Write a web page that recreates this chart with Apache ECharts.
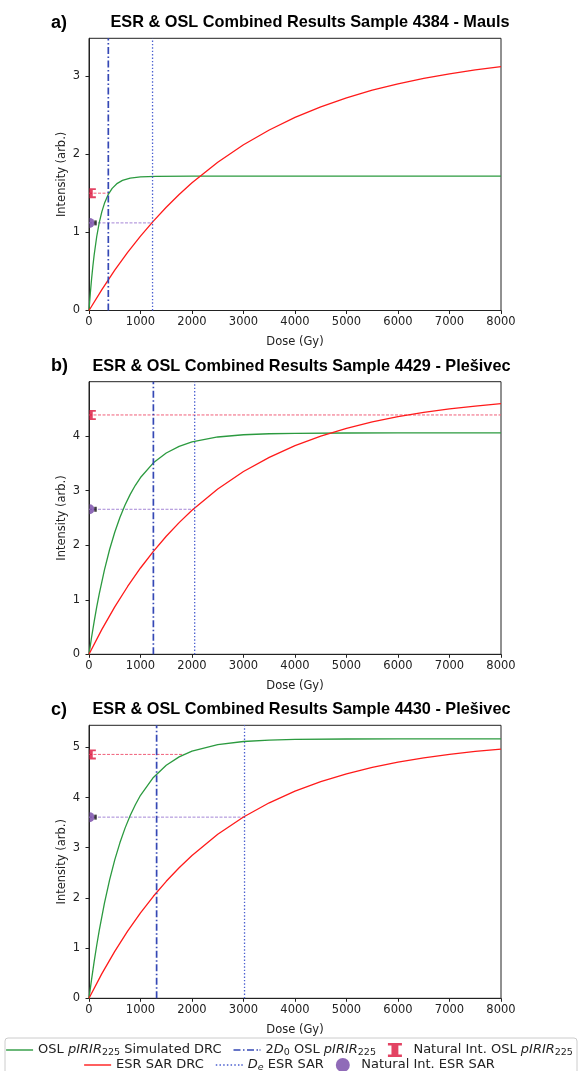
<!DOCTYPE html>
<html>
<head>
<meta charset="utf-8">
<script src="https://cdn.jsdelivr.net/npm/echarts@6/dist/echarts.min.js"></script>
<style>html,body{margin:0;padding:0;background:#fff;}#c{width:579px;height:1071px;}</style>
</head>
<body>
<div id="c"></div>
<script>
// ---- data ----
const panelLabels = ['a)', 'b)', 'c)'];
const panelTitles = [
  'ESR & OSL Combined Results Sample 4384 - Mauls',
  'ESR & OSL Combined Results Sample 4429 - Plešivec',
  'ESR & OSL Combined Results Sample 4430 - Plešivec'
];
const yMax = [3.48, 5.0, 5.44];
const yTicks = [[0, 1, 2, 3], [0, 1, 2, 3, 4], [0, 1, 2, 3, 4, 5]];
const xTicks = [0, 1000, 2000, 3000, 4000, 5000, 6000, 7000, 8000];

// ESR SAR DRC (red)
const esrDose = [0, 250, 500, 750, 1000, 1250, 1500, 1750, 2000, 2500, 3000, 3500, 4000, 4500, 5000, 5500, 6000, 6500, 7000, 7500, 8000];
const esrA = [0, 0.268, 0.515, 0.742, 0.951, 1.143, 1.320, 1.482, 1.632, 1.896, 2.119, 2.308, 2.469, 2.604, 2.719, 2.816, 2.898, 2.967, 3.026, 3.076, 3.118];
const esrB = [0, 0.457, 0.870, 1.244, 1.583, 1.889, 2.165, 2.415, 2.643, 3.033, 3.352, 3.613, 3.827, 4.002, 4.145, 4.263, 4.358, 4.437, 4.501, 4.553, 4.597];
const esrC = [0, 0.491, 0.936, 1.338, 1.703, 2.033, 2.331, 2.601, 2.846, 3.268, 3.613, 3.896, 4.128, 4.318, 4.474, 4.601, 4.706, 4.791, 4.862, 4.919, 4.967];

// OSL pIRIR225 simulated DRC (green)
const oslDoseA = [0, 25, 50, 75, 100, 150, 200, 250, 300, 375, 450, 550, 650, 800, 1000, 1300, 2000, 3000, 4000, 5000, 6000, 7000, 8000];
const oslA = [0, 0.214, 0.402, 0.566, 0.710, 0.946, 1.126, 1.264, 1.370, 1.485, 1.561, 1.626, 1.663, 1.693, 1.709, 1.715, 1.717, 1.717, 1.717, 1.717, 1.717, 1.717, 1.717];
const oslDoseBC = [0, 50, 100, 150, 200, 300, 400, 500, 600, 700, 800, 900, 1000, 1250, 1500, 1750, 2000, 2500, 3000, 3500, 4000, 5000, 6000, 7000, 8000];
const oslB = [0, 0.313, 0.601, 0.868, 1.113, 1.550, 1.922, 2.238, 2.508, 2.738, 2.933, 3.100, 3.242, 3.512, 3.693, 3.814, 3.896, 3.986, 4.027, 4.045, 4.053, 4.059, 4.06, 4.06, 4.06];
const oslC = [0, 0.378, 0.731, 1.057, 1.359, 1.898, 2.361, 2.758, 3.098, 3.391, 3.643, 3.858, 4.045, 4.401, 4.645, 4.811, 4.925, 5.056, 5.117, 5.145, 5.159, 5.167, 5.17, 5.17, 5.17];

const twoD0 = [375, 1250, 1313];        // 2D0 OSL pIRIR225 (Gy)
const deEsr = [1234, 2052, 3020];       // De ESR SAR (Gy)
const natOsl = [1.50, 4.39, 4.86];      // natural OSL intensity
const natOslEnd = [388, 8000, 1846];    // where the natural OSL guide line stops (Gy)
const natEsr = [1.12, 2.66, 3.61];      // natural ESR intensity

// ---- build chart ----
const esrSets = [esrA, esrB, esrC];
const oslSets = [[oslDoseA, oslA], [oslDoseBC, oslB], [oslDoseBC, oslC]];
const gridTops = [38.3, 381.7, 725.3];
const gridHeights = [272.2, 272.6, 273];
const titleCenters = [310, 301.5, 301.5];

const GREEN = '#2b9a3f', RED = '#ff1a1a', BLUE1 = '#3548b5', BLUE2 = '#4a5fd0';
const NAT_RED = '#dc143c', PURPLE = '#7446a6';
const FONT = 'DejaVu Sans';
const ibeam = 'path://M0,0 H15 V2.6 H11.2 V12.4 H15 V15 H0 V12.4 H3.8 V2.6 H0 Z';
const halfIbeam = 'path://M0,0 H6.5 V1.8 H3.4 V8.2 H6.5 V10 H0 Z';
const halfCircle = 'path://M0,0 A5,5 0 0 1 0,10 Z';
const iconSolid = 'path://M0,0 H27 V1.4 H0 Z';
const iconDashDot = 'path://M0,0 H7 V1.6 H0 Z M9.5,0 H11 V1.6 H9.5 Z M13.5,0 H20.5 V1.6 H13.5 Z M23,0 H24.5 V1.6 H23 Z M26,0 H27 V1.6 H26 Z';
const iconDotted = 'path://M0,0 H1.5 V1.5 H0 Z M3.7,0 H5.2 V1.5 H3.7 Z M7.4,0 H8.9 V1.5 H7.4 Z M11.1,0 H12.6 V1.5 H11.1 Z M14.8,0 H16.3 V1.5 H14.8 Z M18.5,0 H20 V1.5 H18.5 Z M22.2,0 H23.7 V1.5 H22.2 Z M25.5,0 H27 V1.5 H25.5 Z';

const grids = [], xAxes = [], yAxes = [], series = [], titles = [];
for (let i = 0; i < 3; i++) {
  grids.push({left: 89, top: gridTops[i], width: 412, height: gridHeights[i], show: true, borderColor: '#222', borderWidth: 1, containLabel: false});
  xAxes.push({
    type: 'value', gridIndex: i, min: 0, max: 8000, interval: 1000,
    name: 'Dose (Gy)', nameLocation: 'middle', nameGap: 25.5, nameMoveOverlap: false,
    nameTextStyle: {fontFamily: FONT, fontSize: 11.5, color: '#222'},
    axisLine: {show: true, onZero: false, lineStyle: {color: '#222', width: 1}},
    axisTick: {show: true, length: 3.5, lineStyle: {color: '#222'}, customValues: xTicks},
    axisLabel: {fontFamily: FONT, fontSize: 11.5, color: '#222', margin: 6, customValues: xTicks, formatter: v => String(v)},
    splitLine: {show: false}
  });
  yAxes.push({
    type: 'value', gridIndex: i, min: 0, max: yMax[i],
    name: 'Intensity (arb.)', nameLocation: 'middle', nameGap: 21, nameMoveOverlap: false,
    nameTextStyle: {fontFamily: FONT, fontSize: 11.5, color: '#222'},
    axisLine: {show: true, onZero: false, lineStyle: {color: '#222', width: 1}},
    axisTick: {show: true, length: 3.5, lineStyle: {color: '#222'}, customValues: yTicks[i]},
    axisLabel: {fontFamily: FONT, fontSize: 11.5, color: '#222', margin: 9, customValues: yTicks[i], formatter: v => String(v)},
    splitLine: {show: false}
  });
  const tCenter = gridTops[i] - 15.5;
  titles.push({text: panelLabels[i], left: 51, top: tCenter, textVerticalAlign: 'middle', padding: 0,
    textStyle: {fontFamily: 'Liberation Sans', fontWeight: 'bold', fontSize: 18, color: '#000'}});
  titles.push({text: panelTitles[i], left: titleCenters[i], textAlign: 'center', top: tCenter, textVerticalAlign: 'middle', padding: 0,
    textStyle: {fontFamily: 'Liberation Sans', fontWeight: 'bold', fontSize: 16.3, color: '#000'}});

  const ax = {xAxisIndex: i, yAxisIndex: i};
  series.push(Object.assign({
    name: 'osl', type: 'line', showSymbol: false, symbol: 'none', smooth: false,
    lineStyle: {color: GREEN, width: 1.3}, itemStyle: {color: GREEN}, z: 3,
    data: oslSets[i][0].map((d, k) => [d, oslSets[i][1][k]])
  }, ax));
  series.push(Object.assign({
    name: 'esr', type: 'line', showSymbol: false, symbol: 'none', smooth: false,
    lineStyle: {color: RED, width: 1.3}, itemStyle: {color: RED}, z: 3,
    data: esrDose.map((d, k) => [d, esrSets[i][k]])
  }, ax));
  series.push(Object.assign({
    name: 'twoD0', type: 'line', showSymbol: false, symbol: 'none',
    lineStyle: {color: BLUE1, width: 1.7, type: [7, 2.5, 1.5, 2.5]}, itemStyle: {color: BLUE1}, z: 4,
    data: [[twoD0[i], 0], [twoD0[i], yMax[i]]]
  }, ax));
  series.push(Object.assign({
    name: 'de', type: 'line', showSymbol: false, symbol: 'none',
    lineStyle: {color: BLUE2, width: 1.3, type: [1.4, 2]}, itemStyle: {color: BLUE2}, z: 4,
    data: [[deEsr[i], 0], [deEsr[i], yMax[i]]]
  }, ax));
  series.push(Object.assign({
    name: 'natOslLine' + i, type: 'line', showSymbol: false, symbol: 'none',
    lineStyle: {color: '#f0607a', width: 1, type: [3, 1.5]}, z: 2,
    data: [[0, natOsl[i]], [natOslEnd[i], natOsl[i]]]
  }, ax));
  series.push(Object.assign({
    name: 'natEsrLine' + i, type: 'line', showSymbol: false, symbol: 'none',
    lineStyle: {color: '#a586d6', width: 1, type: [3, 1.5]}, z: 2,
    data: [[0, natEsr[i]], [deEsr[i], natEsr[i]]]
  }, ax));
  series.push(Object.assign({
    name: 'natOsl', type: 'scatter', symbol: halfIbeam, symbolSize: [6.5, 10], symbolOffset: [3.6, 0],
    itemStyle: {color: NAT_RED}, z: 6, silent: true,
    data: [[0, natOsl[i]]]
  }, ax));
  series.push(Object.assign({
    name: 'natEsr', type: 'scatter', symbol: halfCircle, symbolSize: [5, 10], symbolOffset: [3, 0],
    itemStyle: {color: PURPLE}, z: 6, silent: true,
    data: [[0, natEsr[i]]]
  }, ax));
  series.push(Object.assign({
    name: 'natEsrCap' + i, type: 'scatter', symbol: 'rect', symbolSize: [2.5, 5], symbolOffset: [6.5, 0],
    itemStyle: {color: '#111'}, z: 6, silent: true,
    data: [[0, natEsr[i]]]
  }, ax));
}

const legendText = {
  osl: 'OSL {i|pIRIR}{s|225} Simulated DRC',
  twoD0: '2{i|D}{s|0} OSL {i|pIRIR}{s|225}',
  natOsl: 'Natural Int. OSL {i|pIRIR}{s|225}',
  esr: 'ESR SAR DRC',
  de: '{i|D}{si|e} ESR SAR',
  natEsr: 'Natural Int. ESR SAR'
};
const legendStyle = {
  fontFamily: FONT, fontSize: 13, color: '#222', lineHeight: 16,
  rich: {
    i: {fontFamily: FONT, fontSize: 13, fontStyle: 'italic', color: '#222', lineHeight: 16},
    s: {fontFamily: FONT, fontSize: 9.5, color: '#222', verticalAlign: 'bottom', lineHeight: 10},
    si: {fontFamily: FONT, fontSize: 9.5, fontStyle: 'italic', color: '#222', verticalAlign: 'bottom', lineHeight: 10}
  }
};
const legendBase = {
  left: 'center', orient: 'horizontal', itemWidth: 27, itemHeight: 14, itemGap: 12, padding: 0,
  formatter: n => legendText[n], textStyle: legendStyle, selectedMode: false
};

const chart = echarts.init(document.getElementById('c'), null, {renderer: 'canvas'});
chart.setOption({
  animation: false,
  backgroundColor: '#fff',
  title: titles,
  grid: grids,
  xAxis: xAxes,
  yAxis: yAxes,
  legend: [
    Object.assign({}, legendBase, {top: 1042, data: [
      {name: 'osl', icon: iconSolid, itemStyle: {color: GREEN}},
      {name: 'twoD0', icon: iconDashDot, itemStyle: {color: BLUE1}},
      {name: 'natOsl', icon: ibeam, itemStyle: {color: NAT_RED}}
    ]}),
    Object.assign({}, legendBase, {top: 1057, data: [
      {name: 'esr', icon: iconSolid, itemStyle: {color: RED}},
      {name: 'de', icon: iconDotted, itemStyle: {color: BLUE2}},
      {name: 'natEsr', icon: 'circle', itemStyle: {color: PURPLE}}
    ]})
  ],
  graphic: [
    {type: 'rect', shape: {x: 5, y: 1038, width: 572, height: 40, r: 3}, style: {fill: 'none', stroke: '#cccccc', lineWidth: 1}, z: 0}
  ],
  series: series
});
</script>
</body>
</html>
